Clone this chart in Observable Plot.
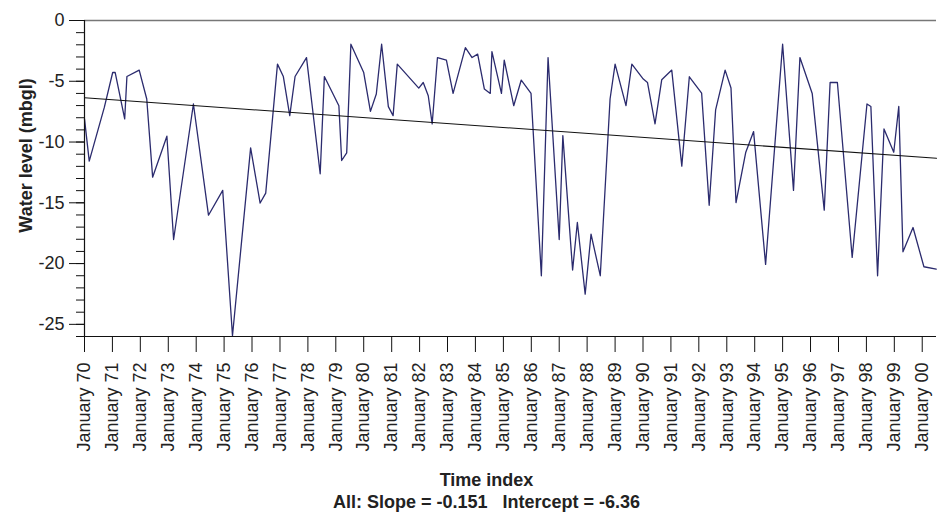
<!DOCTYPE html>
<html>
<head>
<meta charset="utf-8">
<script src="https://cdn.jsdelivr.net/npm/d3@7"></script>
<script src="https://cdn.jsdelivr.net/npm/@observablehq/plot@0.6"></script>
<style>
  html, body { margin: 0; padding: 0; background: #fff; }
  #chart { width: 937px; height: 518px; }
</style>
</head>
<body>
<div id="chart"></div>
<script>
// Observation times (decimal years) and water levels (m below ground level)
const obsTimes = [
  1970.00, 1970.17, 1970.71, 1971.01, 1971.10, 1971.44, 1971.52, 1971.96, 1972.23, 1972.44,
  1972.95, 1973.19, 1973.90, 1974.44, 1974.95, 1975.30, 1975.95, 1976.29, 1976.49, 1976.91,
  1977.12, 1977.35, 1977.54, 1977.95, 1978.44, 1978.59, 1979.11, 1979.21, 1979.39, 1979.54,
  1980.00, 1980.24, 1980.45, 1980.64, 1980.88, 1981.05, 1981.20, 1981.97, 1982.13, 1982.31,
  1982.45, 1982.64, 1982.96, 1983.20, 1983.64, 1983.88, 1984.08, 1984.32, 1984.53, 1984.59,
  1984.93, 1985.03, 1985.37, 1985.64, 1985.99, 1986.36, 1986.60, 1987.00, 1987.13, 1987.48,
  1987.65, 1987.93, 1988.14, 1988.47, 1988.82, 1989.00, 1989.39, 1989.60, 1990.01, 1990.16,
  1990.43, 1990.67, 1991.03, 1991.39, 1991.66, 1992.10, 1992.37, 1992.60, 1992.94, 1993.15,
  1993.33, 1993.68, 1993.96, 1994.39, 1995.00, 1995.39, 1995.62, 1996.06, 1996.49, 1996.70,
  1996.96, 1997.49, 1998.02, 1998.16, 1998.40, 1998.63, 1998.98, 1999.16, 1999.31, 1999.67,
  2000.06, 2000.50
];
const waterLevels = [
  -8.10, -11.57, -7.15, -4.28, -4.28, -8.10, -4.61, -4.08, -6.46, -12.89,
  -9.52, -18.02, -6.87, -16.02, -13.98, -25.94, -10.48, -15.02, -14.20, -3.59,
  -4.61, -7.83, -4.61, -3.05, -12.61, -4.61, -7.01, -11.52, -10.89, -1.95,
  -4.28, -7.48, -6.05, -1.95, -7.09, -7.83, -3.59, -5.56, -5.10, -6.19,
  -8.51, -3.05, -3.26, -6.00, -2.23, -3.05, -2.77, -5.64, -6.00, -2.56,
  -6.00, -3.26, -7.01, -4.90, -6.00, -21.00, -3.05, -18.02, -9.47, -20.53,
  -16.62, -22.52, -17.58, -21.00, -6.46, -3.59, -7.01, -3.59, -4.82, -5.10,
  -8.51, -4.88, -4.08, -11.98, -4.63, -5.97, -15.20, -7.36, -4.08, -5.56,
  -14.98, -10.84, -9.14, -20.07, -1.95, -13.98, -3.05, -6.00, -15.61, -5.10,
  -5.10, -19.49, -6.87, -7.07, -21.00, -8.92, -10.84, -7.07, -19.03, -17.03,
  -20.26, -20.45
];
// Fitted trend line end points
const trendTimes = [1970.00, 2000.51];
const trendLevels = [-6.36, -11.33];
// Axis ticks
const tickYears = [1970, 1971, 1972, 1973, 1974, 1975, 1976, 1977, 1978, 1979, 1980,
  1981, 1982, 1983, 1984, 1985, 1986, 1987, 1988, 1989, 1990,
  1991, 1992, 1993, 1994, 1995, 1996, 1997, 1998, 1999, 2000];
const yMajorTicks = [0, -5, -10, -15, -20, -25];
const yMinorTicks = [0, -1, -2, -3, -4, -5, -6, -7, -8, -9, -10, -11, -12, -13, -14, -15, -16,
  -17, -18, -19, -20, -21, -22, -23, -24, -25, -26];
const yDomain = [-26, 0];
const xDomainYears = [1970.00, 2000.51];
const xTitle = "Time index";
const yTitle = "Water level (mbgl)";
const statsLine = "All: Slope = -0.151   Intercept = -6.36";

function toDate(t) {
  const y = Math.floor(t), f = t - y;
  const a = Date.UTC(y, 0, 1), b = Date.UTC(y + 1, 0, 1);
  return new Date(a + f * (b - a));
}

const series = obsTimes.map((t, i) => ({date: toDate(t), level: waterLevels[i]}));
const trend = trendTimes.map((t, i) => ({date: toDate(t), level: trendLevels[i]}));
const tickDates = tickYears.map(y => toDate(y));
const xDomain = xDomainYears.map(toDate);

const chart = Plot.plot({
  width: 937,
  height: 518,
  marginLeft: 84,
  marginRight: 1,
  marginTop: 20,
  marginBottom: 182,
  style: {fontFamily: "'Liberation Sans', Arial, sans-serif", fontSize: "18px", color: "#222", background: "#fff"},
  x: {type: "utc", domain: xDomain, axis: null, label: null},
  y: {domain: yDomain, axis: null, label: null},
  marks: [
    Plot.ruleY([yDomain[1]], {stroke: "#777", strokeWidth: 1.5}),
    Plot.line(series, {x: "date", y: "level", stroke: "#2b2b6e", strokeWidth: 1.3}),
    Plot.line(trend, {x: "date", y: "level", stroke: "#111", strokeWidth: 1.1}),
    Plot.ruleY([yDomain[0]], {stroke: "#111", strokeWidth: 1.2}),
    Plot.ruleX([xDomain[0]], {stroke: "#111", strokeWidth: 1.2}),
    Plot.axisY(yMinorTicks, {tickSize: 8, tickFormat: () => "", label: null, stroke: "#111"}),
    Plot.axisY(yMajorTicks, {tickSize: 15, tickPadding: 5, label: null, stroke: "#111", fill: "#222", tickFormat: d => String(d)}),
    Plot.axisX(tickDates, {tickSize: 16, tickPadding: 10, tickRotate: -90, label: null, stroke: "#111", fill: "#222",
      tickFormat: d => "January " + String(d.getUTCFullYear()).slice(2)}),
    Plot.text([yTitle], {frameAnchor: "left", textAnchor: "middle", rotate: -90, dx: -58, dy: -23, fontWeight: "bold", fill: "#222"}),
    Plot.text([xTitle], {frameAnchor: "bottom", dx: -24, dy: 149, fontWeight: "bold", fill: "#222"}),
    Plot.text([statsLine], {frameAnchor: "bottom", dx: -24, dy: 171, fontWeight: "bold", fill: "#222"})
  ]
});
document.getElementById("chart").appendChild(chart);
</script>
</body>
</html>
